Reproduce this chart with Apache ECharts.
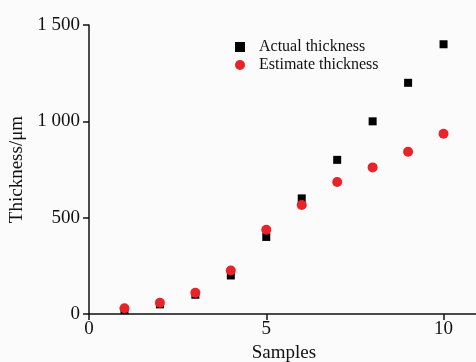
<!DOCTYPE html>
<html>
<head>
<meta charset="utf-8">
<script src="https://cdn.jsdelivr.net/npm/echarts@6/dist/echarts.min.js"></script>
<style>
  html, body { margin: 0; padding: 0; background: #fff; }
  #chart { width: 476px; height: 362px; }
</style>
</head>
<body>
<div id="chart"></div>
<script>
const samples = [1, 2, 3, 4, 5, 6, 7, 8, 9, 10];
const actual = [20, 50, 100, 200, 400, 600, 800, 1000, 1200, 1400];
const estimate = [30, 58, 110, 226, 437, 566, 685, 761, 842, 936];
const yTicks = [0, 500, 1000, 1500];

const FONT = '"Liberation Serif", "DejaVu Serif", serif';

function pairs(xs, ys) {
  return xs.map((x, i) => [x, ys[i]]);
}

function fmtThousands(v) {
  return String(v).replace(/\B(?=(\d{3})+(?!\d))/g, ' ');
}

const chart = echarts.init(document.getElementById('chart'));

const option = {
  backgroundColor: '#fbfbfb',
  animation: false,
  textStyle: { fontFamily: FONT, color: '#111' },
  grid: { left: 89, top: 25, width: 390, bottom: 48, outerBoundsMode: 'none', containLabel: false },
  legend: {
    orient: 'vertical',
    left: 230,
    top: 34,
    itemGap: 2,
    itemWidth: 10,
    itemHeight: 10,
    textStyle: { fontFamily: FONT, fontSize: 16, color: '#111', padding: [0, 0, 0, 9] },
    data: [
      { name: 'Actual thickness', icon: 'rect', itemStyle: { color: '#000' } },
      { name: 'Estimate thickness', icon: 'circle', itemStyle: { color: '#e8232a' } }
    ]
  },
  xAxis: {
    type: 'value',
    min: 0,
    max: 11,
    interval: 5,
    name: 'Samples',
    nameLocation: 'middle',
    nameGap: 28,
    nameTextStyle: { fontFamily: FONT, fontSize: 19, color: '#111' },
    axisLine: { lineStyle: { color: '#111', width: 1.5 } },
    axisTick: { show: true, length: 6, lineStyle: { color: '#111', width: 1.5 } },
    axisLabel: { fontFamily: FONT, fontSize: 19, color: '#111', margin: 6, showMaxLabel: false },
    splitLine: { show: false }
  },
  yAxis: {
    type: 'value',
    min: yTicks[0],
    max: yTicks[yTicks.length - 1],
    interval: 500,
    name: 'Thickness/μm',
    nameLocation: 'middle',
    nameGap: 60,
    nameTextStyle: { fontFamily: FONT, fontSize: 19, color: '#111' },
    axisLine: { show: true, lineStyle: { color: '#111', width: 1.5 } },
    axisTick: { show: true, length: 6, lineStyle: { color: '#111', width: 1.5 } },
    axisLabel: { fontFamily: FONT, fontSize: 19, color: '#111', margin: 9, formatter: fmtThousands },
    splitLine: { show: false }
  },
  series: [
    {
      name: 'Actual thickness',
      type: 'scatter',
      symbol: 'rect',
      symbolSize: 8,
      itemStyle: { color: '#000', opacity: 1 },
      data: pairs(samples, actual)
    },
    {
      name: 'Estimate thickness',
      type: 'scatter',
      symbol: 'circle',
      symbolSize: 10,
      itemStyle: { color: '#e8232a', opacity: 1 },
      data: pairs(samples, estimate)
    }
  ]
};

chart.setOption(option);
</script>
</body>
</html>
